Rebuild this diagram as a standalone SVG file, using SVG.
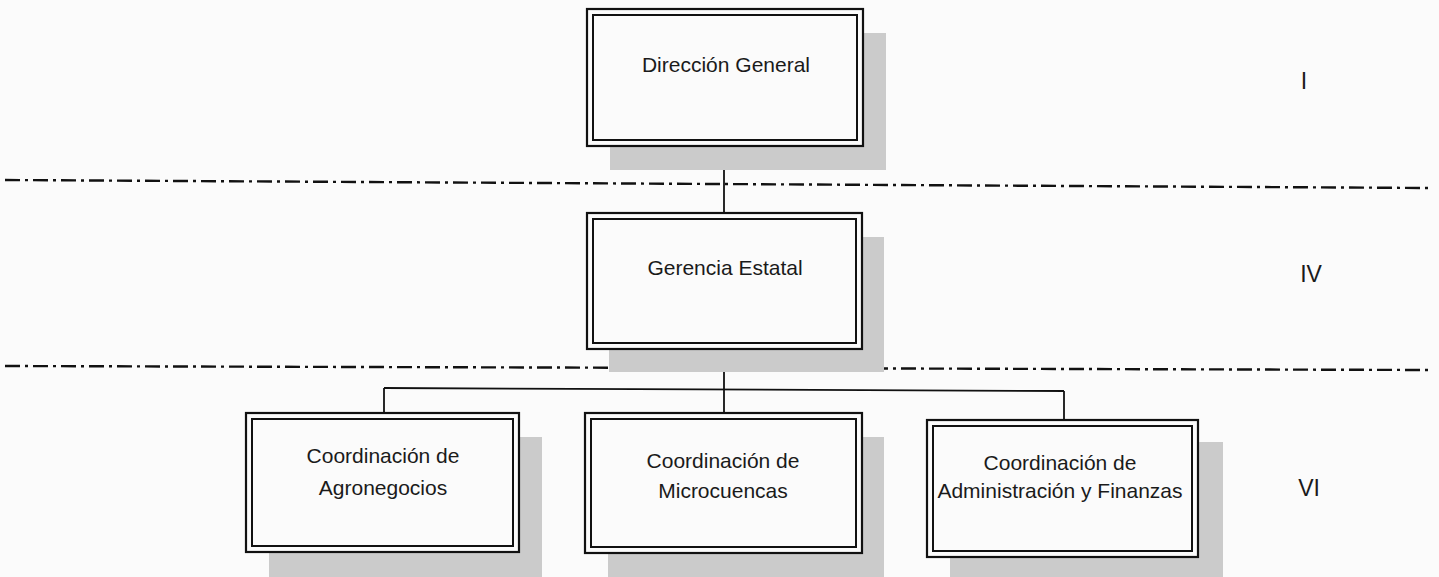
<svg xmlns="http://www.w3.org/2000/svg" width="1439" height="577" viewBox="0 0 1439 577">
<style>
.bg{fill:#fbfbfb}
.sh{fill:#cbcbcb}
.ob{fill:#fbfbfb;stroke:#111;stroke-width:2.2}
.ib{fill:none;stroke:#111;stroke-width:2}
.t{font-family:"Liberation Sans",Arial,sans-serif;font-size:21px;fill:#1a1a1a;text-anchor:middle}
.n{font-size:23px}
.c{stroke:#111;stroke-width:1.8;fill:none}
.d{stroke:#111;stroke-width:2.4;fill:none;stroke-dasharray:15 5 3 5}
</style>
<rect class="bg" x="0" y="0" width="1439" height="577"/>
<g id="levels">
<line class="d" x1="5" y1="180" x2="1430" y2="188"/>
<line class="d" x1="5" y1="366" x2="1430" y2="370"/>
<text class="t n" x="1304" y="89">I</text>
<text class="t n" x="1311" y="282">IV</text>
<text class="t n" x="1309" y="496">VI</text>
</g>
<g id="connectors">
<line class="c" x1="724" y1="146" x2="724" y2="213"/>
<line class="c" x1="724" y1="349" x2="724" y2="413"/>
<line class="c" x1="384" y1="388" x2="1064" y2="391"/>
<line class="c" x1="384" y1="388" x2="384" y2="413"/>
<line class="c" x1="1064" y1="391" x2="1064" y2="420"/>
</g>
<g id="direccion-general">
<rect class="sh" x="610" y="33" width="276" height="137"/>
<rect class="ob" x="587" y="9" width="276" height="137"/>
<rect class="ib" x="593" y="15" width="264" height="125"/>
<text class="t" x="726" y="72">Dirección General</text>
</g>
<g id="gerencia-estatal">
<rect class="sh" x="609" y="237" width="275" height="135"/>
<rect class="ob" x="587" y="213" width="275" height="136"/>
<rect class="ib" x="593" y="219" width="263" height="124"/>
<text class="t" x="725" y="275">Gerencia Estatal</text>
</g>
<g id="coord-agronegocios">
<rect class="sh" x="269" y="437" width="273" height="140"/>
<rect class="ob" x="246" y="413" width="273" height="139"/>
<rect class="ib" x="252" y="419" width="261" height="127"/>
<text class="t" x="383" y="463">Coordinación de</text>
<text class="t" x="383" y="495">Agronegocios</text>
</g>
<g id="coord-microcuencas">
<rect class="sh" x="608" y="437" width="276" height="140"/>
<rect class="ob" x="585" y="413" width="277" height="140"/>
<rect class="ib" x="591" y="419" width="265" height="128"/>
<text class="t" x="723" y="468">Coordinación de</text>
<text class="t" x="723" y="498">Microcuencas</text>
</g>
<g id="coord-administracion">
<rect class="sh" x="950" y="442" width="273" height="135"/>
<rect class="ob" x="927" y="420" width="271" height="137"/>
<rect class="ib" x="933" y="426" width="259" height="125"/>
<text class="t" x="1060" y="470">Coordinación de</text>
<text class="t" x="1060" y="498">Administración y Finanzas</text>
</g>
</svg>
